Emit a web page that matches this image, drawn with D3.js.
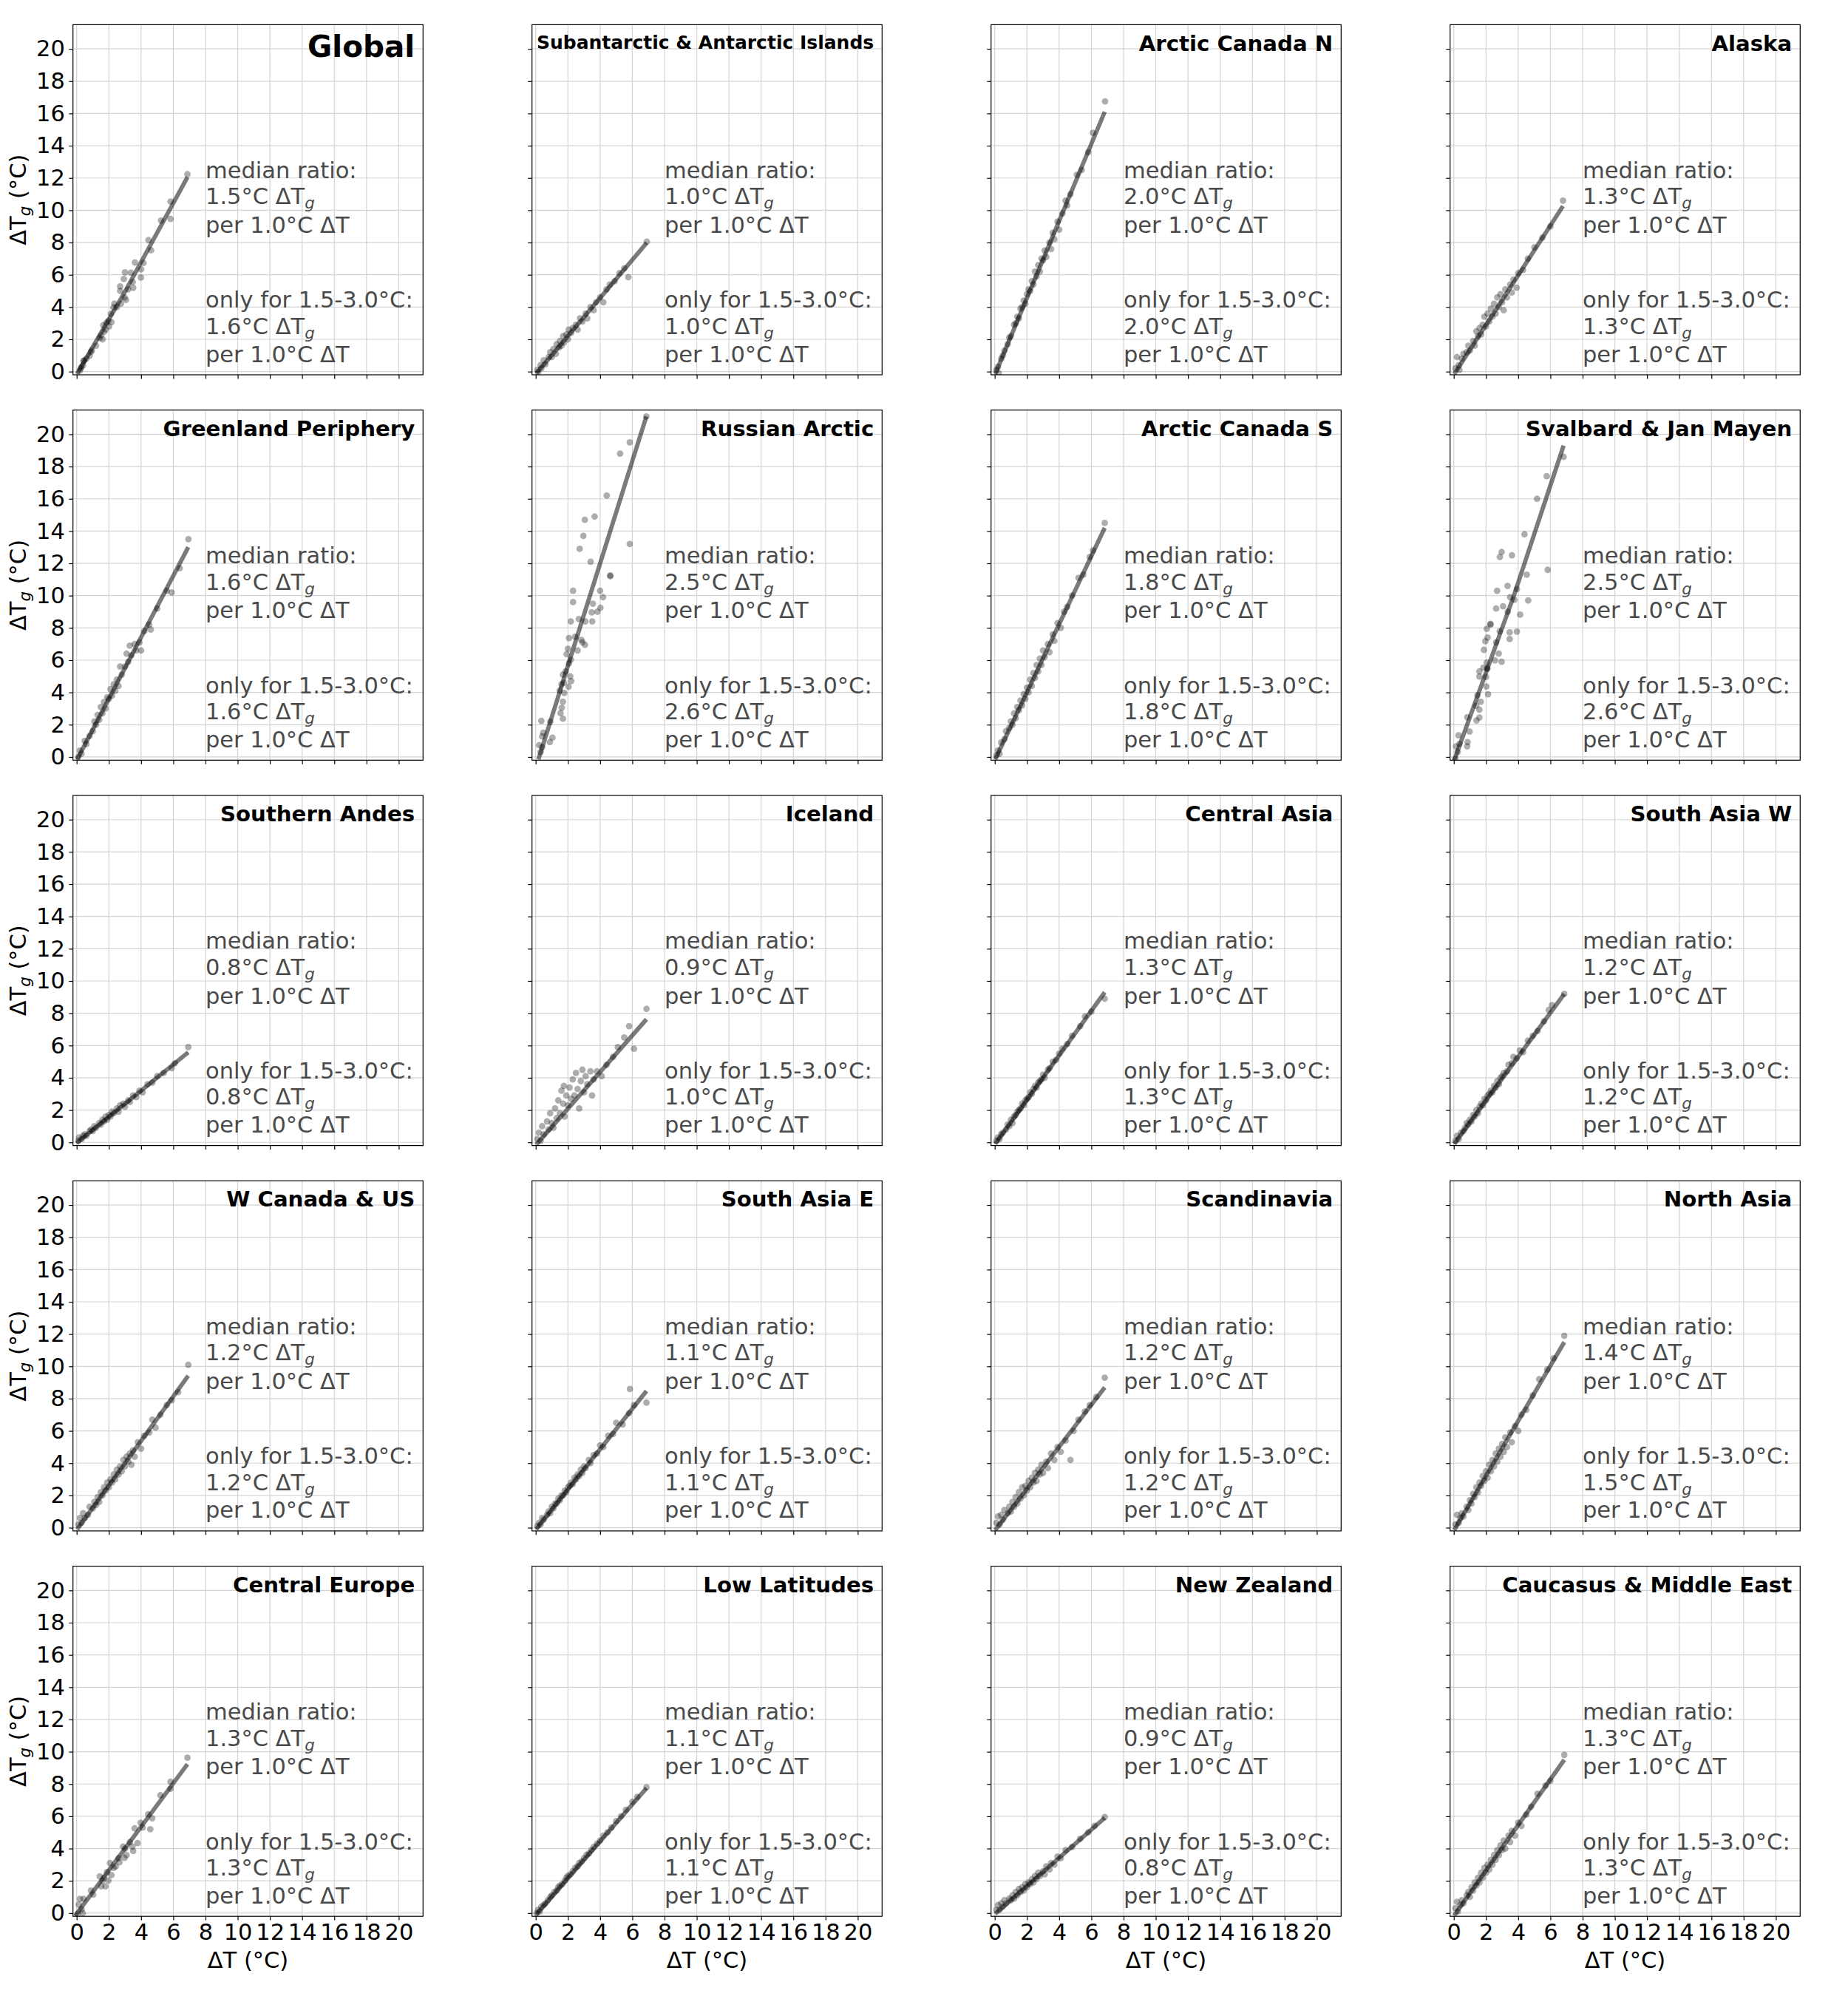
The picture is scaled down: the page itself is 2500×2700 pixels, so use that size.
<!DOCTYPE html>
<html><head><meta charset="utf-8">
<script src="https://cdn.jsdelivr.net/npm/d3@7"></script>
<style>body{margin:0;background:#fff}</style>
</head><body><svg id="chart"></svg>
<script>
const regions = ["Global","Subantarctic & Antarctic Islands","Arctic Canada N","Alaska",
  "Greenland Periphery","Russian Arctic","Arctic Canada S","Svalbard & Jan Mayen",
  "Southern Andes","Iceland","Central Asia","South Asia W",
  "W Canada & US","South Asia E","Scandinavia","North Asia",
  "Central Europe","Low Latitudes","New Zealand","Caucasus & Middle East"];
const medianRatio = ["1.5","1.0","2.0","1.3","1.6","2.5","1.8","2.5","0.8","0.9","1.3","1.2","1.2","1.1","1.2","1.4","1.3","1.1","0.9","1.3"];
const rangeRatio  = ["1.6","1.0","2.0","1.3","1.6","2.6","1.8","2.6","0.8","1.0","1.3","1.2","1.2","1.1","1.2","1.5","1.3","1.1","0.8","1.3"];
const tickValues = [0,2,4,6,8,10,12,14,16,18,20];
const tickLabels = ["0","2","4","6","8","10","12","14","16","18","20"];

// fitted lines [ΔT, ΔTg]
const F01=[[0.02,-0.15],[3,4.95],[6.88,12.05]];
const F02=[[0.05,-0.1],[6.89,7.97]];
const F03=[[0.03,-0.15],[6.83,16.1]];
const F04=[[0.03,-0.15],[6.78,10.26]];
const F05=[[0.03,-0.15],[6.93,13.0]];
const F06=[[0.17,-0.15],[6.87,21.1]];
const F07=[[0.03,-0.15],[6.83,14.2]];
const F08=[[0.02,-0.23],[3.73,10.0],[6.82,19.3]];
const F09=[[0.0,-0.05],[6.93,5.58]];
const F10=[[0.03,-0.15],[6.88,7.63]];
const F11=[[0.03,-0.1],[6.83,9.3]];
const F12=[[0.03,-0.1],[6.86,9.2]];
const F13=[[0.03,-0.1],[6.93,9.42]];
const F14=[[0.03,-0.1],[6.88,8.47]];
const F15=[[0.03,-0.15],[6.83,8.7]];
const F16=[[0.03,-0.15],[6.86,11.5]];
const F17=[[-0.1,-0.18],[6.88,9.23]];
const F18=[[0.03,-0.1],[6.88,7.74]];
const F19=[[0.03,-0.05],[6.83,5.9]];
const F20=[[0.03,-0.15],[6.86,9.5]];

// scatter points [ΔT, ΔTg]
const P01=[[6.88,12.23],[5.83,10.54],[5.83,9.46],[5.24,9.36],[4.46,8.15],[4.62,7.52],[4.15,6.73],[3.62,6.76],[4.0,6.34],[3.99,5.83],[3.0,6.15],[3.37,6.13],[2.93,5.74],[2.7,5.28],[3.48,5.55],[3.51,5.19],[2.97,4.6],[3.06,4.44],[2.7,5.0],[2.34,4.21],[2.28,3.97],[2.75,4.21],[2.12,3.58],[1.97,3.15],[2.16,3.06],[1.85,3.03],[2.01,2.79],[1.65,2.87],[1.7,2.47],[1.52,2.24],[1.61,2.0],[1.43,2.08],[0.89,1.21],[0.8,0.98],[0.94,1.32],[0.42,0.66],[0.4,0.39],[0.25,0.19],[0.2,0.06],[0.47,0.69],[1.2,1.6],[2.5,4.0],[3.2,5.1],[1.8,2.6],[0.6,0.8],[0.3,0.3]];
const P02=[[0.1,0.1],[0.15,-0.05],[0.3,0.4],[0.35,0.2],[0.5,0.7],[0.6,0.45],[0.8,0.9],[0.9,1.2],[1.0,0.9],[1.1,1.4],[1.25,1.1],[1.3,1.7],[1.45,1.5],[1.5,1.9],[1.6,1.6],[1.7,2.2],[1.75,1.8],[1.9,2.3],[2.0,2.0],[2.05,2.6],[2.2,2.4],[2.3,2.7],[2.5,2.9],[2.6,2.6],[2.75,3.3],[2.9,3.1],[3.1,3.6],[3.2,3.3],[3.4,4.0],[3.6,3.8],[3.75,4.3],[4.0,4.6],[4.2,4.3],[4.4,5.1],[4.6,5.4],[4.9,5.6],[5.2,6.1],[5.5,6.4],[5.75,5.85],[6.9,8.05]];
const P03=[[0.1,0.1],[0.2,0.3],[0.25,-0.1],[0.4,0.8],[0.5,1.0],[0.6,1.3],[0.8,1.7],[0.9,2.1],[1.0,2.2],[1.2,2.9],[1.3,3.0],[1.4,3.4],[1.5,3.3],[1.6,3.9],[1.7,4.0],[1.8,4.4],[1.9,4.2],[2.0,4.8],[2.1,5.1],[2.2,5.0],[2.3,5.6],[2.4,5.4],[2.5,6.2],[2.6,5.9],[2.7,6.6],[2.8,6.2],[2.9,7.0],[3.0,6.9],[3.1,7.5],[3.2,7.1],[3.4,8.0],[3.5,7.6],[3.6,8.6],[3.7,8.2],[3.9,9.3],[4.0,8.8],[4.2,9.8],[4.4,10.6],[4.5,10.3],[4.7,11.0],[5.1,12.2],[5.4,12.5],[5.8,13.6],[6.1,14.8],[6.85,16.75]];
const P04=[[0.1,0.2],[0.2,0.9],[0.3,0.4],[0.35,0.1],[0.5,0.8],[0.6,1.1],[0.8,1.2],[0.9,1.6],[1.0,1.3],[1.2,1.9],[1.3,1.6],[1.4,2.5],[1.5,2.2],[1.6,2.7],[1.7,2.3],[1.8,2.9],[1.9,3.4],[2.0,2.8],[2.1,3.6],[2.2,3.1],[2.3,3.9],[2.4,3.4],[2.5,4.2],[2.6,3.6],[2.7,4.6],[2.8,4.0],[2.9,4.8],[3.0,4.3],[3.1,3.8],[3.2,5.1],[3.3,4.6],[3.5,5.4],[3.6,4.9],[3.7,5.7],[3.9,5.2],[4.0,6.1],[4.3,6.3],[4.6,7.0],[5.0,7.7],[5.5,8.3],[6.0,9.0],[6.78,10.6]];
const P05=[[0.1,0.0],[0.2,0.4],[0.3,0.2],[0.5,1.0],[0.6,0.8],[0.8,1.3],[1.0,1.6],[1.1,2.2],[1.2,2.0],[1.3,2.6],[1.4,2.3],[1.5,3.1],[1.6,2.7],[1.7,3.4],[1.8,3.0],[1.9,3.7],[2.0,3.6],[2.1,4.2],[2.2,3.8],[2.3,4.5],[2.4,4.1],[2.5,4.8],[2.6,4.4],[2.7,5.6],[2.8,5.1],[3.0,5.6],[3.1,6.4],[3.2,5.9],[3.3,6.9],[3.4,6.3],[3.6,7.0],[3.7,6.6],[3.9,7.1],[4.0,6.6],[4.2,7.8],[4.5,8.2],[4.6,7.9],[5.0,9.2],[5.6,10.3],[5.9,10.2],[6.4,11.7],[6.94,13.5]];
const P06=[[6.87,21.1],[5.84,19.5],[5.24,18.8],[4.41,16.2],[3.05,14.7],[3.66,14.9],[2.96,13.7],[2.73,12.9],[3.41,12.1],[5.84,13.2],[4.63,11.2],[4.63,11.25],[2.32,10.3],[2.32,9.6],[4.0,10.3],[4.18,9.9],[3.55,9.5],[3.48,8.96],[3.83,9.0],[4.02,9.25],[2.18,8.4],[2.68,8.55],[3.08,8.4],[3.51,8.4],[2.07,7.37],[2.45,7.45],[2.84,7.25],[3.06,6.95],[2.6,6.6],[2.0,6.7],[1.92,6.37],[2.18,6.03],[2.07,5.8],[1.69,5.1],[2.15,5.0],[2.2,4.7],[2.04,4.35],[1.49,4.12],[1.77,3.97],[1.69,3.43],[1.62,3.05],[1.54,2.72],[1.69,2.37],[0.35,2.24],[0.91,2.18],[0.47,1.5],[1.04,1.19],[0.88,0.92],[0.4,1.27],[0.21,0.73],[0.4,0.61],[1.6,4.5],[1.75,4.6],[1.85,5.3],[2.9,7.1],[0.3,0.3]];
const P07=[[0.1,0.1],[0.2,0.4],[0.3,0.2],[0.4,0.9],[0.6,1.1],[0.7,1.6],[0.9,1.8],[1.0,2.2],[1.1,2.0],[1.2,2.7],[1.3,2.4],[1.4,3.1],[1.5,2.9],[1.6,3.5],[1.7,3.2],[1.8,3.9],[1.9,3.6],[2.0,4.3],[2.1,4.0],[2.2,4.8],[2.3,4.4],[2.4,5.2],[2.5,4.9],[2.6,5.7],[2.7,5.3],[2.8,6.1],[2.9,5.7],[3.0,6.6],[3.1,6.2],[3.3,7.0],[3.4,6.5],[3.6,7.6],[3.7,7.2],[3.9,8.3],[4.1,8.0],[4.3,9.0],[4.5,9.3],[4.8,10.0],[5.2,11.1],[5.5,11.3],[5.9,12.4],[6.1,12.8],[6.83,14.5]];
const P08=[[6.82,18.6],[5.77,17.4],[5.17,16.0],[4.39,13.8],[2.97,12.7],[2.86,12.4],[3.61,12.5],[5.83,11.6],[4.53,11.3],[3.34,10.6],[2.69,10.3],[3.92,10.4],[3.5,9.9],[3.76,9.74],[4.62,9.7],[3.06,9.34],[2.63,9.2],[3.35,9.0],[4.12,8.82],[2.28,8.2],[2.28,8.25],[2.05,7.94],[2.85,7.79],[3.47,7.72],[3.92,7.77],[2.1,7.4],[1.96,7.17],[3.47,7.31],[2.63,7.1],[1.87,6.64],[2.79,6.41],[2.56,5.98],[2.97,5.9],[2.05,5.85],[1.84,5.54],[2.08,5.47],[2.08,5.5],[1.59,5.3],[1.59,4.99],[2.0,4.96],[2.02,4.37],[2.13,3.89],[1.47,3.82],[1.67,3.42],[1.59,2.93],[1.38,3.18],[0.84,2.47],[1.41,2.26],[1.59,2.44],[0.98,1.57],[0.29,1.34],[0.86,0.92],[0.35,0.81],[0.14,0.66],[0.83,0.66],[0.24,0.31],[0.1,-0.1]];
const P09=[[0.1,0.1],[0.15,0.3],[0.3,0.2],[0.4,0.4],[0.5,0.5],[0.6,0.4],[0.8,0.7],[0.9,0.8],[1.0,0.7],[1.1,1.0],[1.2,0.9],[1.4,1.2],[1.5,1.1],[1.6,1.4],[1.7,1.3],[1.8,1.6],[1.9,1.4],[2.0,1.7],[2.1,1.6],[2.2,1.9],[2.3,1.8],[2.5,2.1],[2.6,1.9],[2.7,2.3],[2.9,2.4],[3.0,2.2],[3.2,2.6],[3.3,2.5],[3.5,2.9],[3.7,2.8],[3.9,3.2],[4.1,3.1],[4.4,3.6],[4.7,3.7],[5.0,4.1],[5.4,4.3],[5.9,4.6],[6.1,4.9],[6.93,5.9]];
const P10=[[0.1,0.2],[0.2,0.6],[0.3,0.1],[0.4,1.0],[0.5,0.5],[0.7,1.3],[0.8,0.8],[0.9,1.8],[1.0,1.2],[1.1,0.9],[1.2,2.1],[1.3,1.5],[1.4,2.6],[1.5,1.8],[1.6,3.2],[1.7,2.4],[1.75,3.5],[1.8,1.6],[1.9,2.9],[2.0,2.3],[2.1,3.4],[2.2,2.7],[2.3,3.9],[2.4,2.9],[2.5,4.3],[2.6,3.3],[2.7,2.1],[2.8,3.8],[2.9,4.5],[3.0,3.1],[3.1,4.1],[3.2,3.6],[3.4,4.4],[3.5,2.9],[3.6,3.9],[3.8,4.4],[4.1,4.1],[4.4,4.8],[4.8,5.3],[5.1,5.9],[5.5,6.5],[5.8,7.2],[6.1,5.8],[6.88,8.27]];
const P11=[[0.1,0.1],[0.2,0.3],[0.3,0.2],[0.4,0.5],[0.5,0.6],[0.7,0.8],[0.8,1.1],[0.9,1.0],[1.0,1.4],[1.1,1.2],[1.2,1.6],[1.3,1.7],[1.4,1.9],[1.5,2.0],[1.6,2.1],[1.7,2.4],[1.8,2.3],[1.9,2.6],[2.0,2.7],[2.1,2.8],[2.2,3.1],[2.3,3.0],[2.4,3.3],[2.5,3.5],[2.6,3.4],[2.7,3.7],[2.8,3.8],[2.9,3.9],[3.0,4.2],[3.1,4.0],[3.3,4.5],[3.4,4.6],[3.6,5.0],[3.8,5.1],[4.0,5.5],[4.2,5.8],[4.5,6.1],[4.8,6.6],[5.3,7.2],[5.6,7.8],[6.0,8.1],[6.83,8.9]];
const P12=[[0.1,0.1],[0.2,0.4],[0.3,0.2],[0.45,0.6],[0.6,0.7],[0.7,0.9],[0.8,1.2],[0.9,1.1],[1.0,1.4],[1.1,1.3],[1.2,1.7],[1.3,1.6],[1.4,2.0],[1.5,1.8],[1.6,2.2],[1.7,2.4],[1.8,2.3],[1.9,2.7],[2.0,2.6],[2.1,2.9],[2.2,3.0],[2.3,3.2],[2.4,3.1],[2.5,3.5],[2.6,3.4],[2.7,3.8],[2.8,3.6],[2.9,4.0],[3.0,4.1],[3.1,4.3],[3.3,4.4],[3.4,4.8],[3.6,4.9],[3.7,5.3],[3.9,5.2],[4.1,5.7],[4.3,5.6],[4.6,6.3],[4.9,6.6],[5.2,6.9],[5.6,7.5],[5.9,8.2],[6.1,8.5],[6.86,9.2]];
const P13=[[0.1,0.2],[0.2,0.6],[0.3,0.3],[0.4,0.9],[0.5,0.6],[0.7,0.8],[0.8,1.3],[1.0,1.2],[1.1,1.6],[1.2,1.4],[1.3,1.9],[1.4,1.6],[1.5,2.2],[1.6,2.0],[1.7,2.5],[1.8,2.3],[1.9,2.8],[2.0,2.5],[2.1,3.0],[2.2,2.8],[2.3,3.3],[2.4,3.0],[2.5,3.6],[2.6,3.3],[2.7,3.8],[2.8,3.5],[2.9,4.2],[3.0,3.8],[3.1,4.4],[3.2,4.1],[3.3,4.6],[3.4,3.9],[3.5,4.8],[3.6,4.4],[3.8,5.3],[4.0,4.9],[4.2,5.7],[4.5,5.9],[4.7,6.7],[4.9,6.2],[5.2,7.0],[5.6,7.6],[5.9,7.9],[6.3,8.4],[6.93,10.1]];
const P14=[[0.1,0.1],[0.2,0.3],[0.3,0.2],[0.4,0.6],[0.5,0.5],[0.7,0.8],[0.8,1.0],[0.9,0.9],[1.0,1.3],[1.1,1.2],[1.2,1.5],[1.3,1.5],[1.4,1.8],[1.5,1.7],[1.6,2.0],[1.7,2.0],[1.8,2.3],[1.9,2.2],[2.0,2.5],[2.1,2.6],[2.2,2.8],[2.3,2.7],[2.4,3.1],[2.5,3.0],[2.6,3.3],[2.7,3.2],[2.8,3.6],[2.9,3.4],[3.0,3.8],[3.1,3.7],[3.3,4.2],[3.4,4.0],[3.6,4.5],[3.8,4.6],[4.0,5.1],[4.2,5.0],[4.5,5.7],[4.8,5.8],[5.0,6.5],[5.4,6.4],[5.8,7.1],[5.85,8.6],[6.1,7.6],[6.88,7.75]];
const P15=[[0.1,0.3],[0.2,0.7],[0.3,0.2],[0.4,0.8],[0.5,0.5],[0.6,1.1],[0.8,0.9],[0.9,1.3],[1.0,1.0],[1.1,1.6],[1.2,1.3],[1.3,1.9],[1.4,1.5],[1.5,2.2],[1.6,1.8],[1.7,2.5],[1.8,2.0],[1.9,2.6],[2.0,2.3],[2.1,2.9],[2.2,2.5],[2.3,3.1],[2.4,2.8],[2.5,3.4],[2.6,2.9],[2.7,3.6],[2.8,3.3],[2.9,3.9],[3.0,3.4],[3.2,4.1],[3.3,3.7],[3.5,4.6],[3.7,4.2],[3.9,5.0],[4.1,4.7],[4.4,5.4],[4.7,4.2],[4.9,6.0],[5.2,6.7],[5.6,7.2],[5.9,7.6],[6.3,8.1],[6.83,9.3]];
const P16=[[0.1,0.2],[0.2,0.8],[0.3,0.3],[0.4,0.6],[0.5,0.9],[0.6,0.7],[0.8,1.3],[0.9,1.1],[1.0,1.7],[1.1,1.5],[1.2,2.1],[1.3,1.9],[1.4,2.5],[1.5,2.2],[1.6,2.8],[1.7,2.6],[1.8,3.2],[1.9,2.9],[2.0,3.5],[2.1,3.1],[2.2,3.9],[2.3,3.5],[2.4,4.2],[2.5,3.8],[2.6,4.6],[2.7,4.1],[2.8,4.9],[2.9,4.4],[3.0,5.2],[3.1,4.7],[3.2,5.6],[3.3,5.0],[3.5,5.9],[3.6,5.3],[3.8,6.3],[4.0,6.0],[4.2,7.0],[4.5,7.3],[4.9,8.2],[5.3,9.2],[5.8,9.8],[6.2,10.5],[6.86,11.9]];
const P17=[[6.88,9.63],[5.83,8.14],[5.83,7.71],[5.2,7.3],[4.69,5.87],[4.57,5.2],[4.44,6.13],[3.97,5.6],[3.6,5.25],[3.78,4.34],[3.51,3.85],[3.46,4.12],[3.1,3.59],[2.88,4.12],[2.97,3.42],[2.66,3.15],[2.43,2.89],[2.07,3.1],[2.16,2.36],[1.88,2.54],[1.7,2.19],[1.43,2.28],[1.52,1.66],[1.79,1.66],[1.97,2.01],[0.89,1.4],[1.03,1.14],[0.43,0.88],[0.2,0.88],[0.13,0.53],[0.31,0.23],[0.38,0.0],[0.07,-0.05],[2.3,2.8],[2.6,3.4],[3.0,4.0],[1.6,2.0],[4.1,5.3],[3.3,4.4]];
const P18=[[0.05,0.0],[0.15,0.2],[0.25,0.1],[0.35,0.4],[0.5,0.5],[0.6,0.6],[0.75,0.8],[0.9,1.0],[1.0,1.1],[1.15,1.3],[1.3,1.4],[1.4,1.6],[1.5,1.7],[1.65,1.8],[1.8,2.0],[1.9,2.2],[2.0,2.3],[2.15,2.4],[2.3,2.6],[2.45,2.8],[2.6,2.9],[2.7,3.1],[2.85,3.2],[3.0,3.4],[3.15,3.6],[3.3,3.7],[3.45,3.9],[3.6,4.1],[3.8,4.3],[4.0,4.5],[4.2,4.8],[4.45,5.0],[4.7,5.3],[5.0,5.7],[5.3,6.0],[5.6,6.4],[6.0,6.9],[6.3,7.2],[6.88,7.8]];
const P19=[[0.1,0.2],[0.2,0.5],[0.3,0.2],[0.4,0.6],[0.5,0.4],[0.6,0.8],[0.7,0.6],[0.9,0.9],[1.0,0.8],[1.1,1.1],[1.2,0.9],[1.3,1.3],[1.4,1.1],[1.5,1.5],[1.6,1.3],[1.7,1.6],[1.8,1.4],[1.9,1.8],[2.0,1.6],[2.1,1.9],[2.2,1.8],[2.3,2.1],[2.4,1.9],[2.5,2.3],[2.6,2.1],[2.7,2.5],[2.8,2.3],[3.0,2.6],[3.1,2.4],[3.2,2.9],[3.4,2.7],[3.5,3.1],[3.7,3.0],[3.9,3.5],[4.1,3.4],[4.4,3.9],[4.8,4.1],[5.3,4.6],[5.8,5.0],[6.2,5.4],[6.83,5.95]];
const P20=[[0.1,0.3],[0.2,0.7],[0.25,0.1],[0.4,0.5],[0.5,0.8],[0.6,0.6],[0.8,1.1],[0.9,1.3],[1.0,1.0],[1.1,1.6],[1.2,1.4],[1.3,1.9],[1.4,1.7],[1.5,2.2],[1.6,1.9],[1.7,2.5],[1.8,2.2],[1.9,2.8],[2.0,2.5],[2.1,3.0],[2.2,2.7],[2.3,3.3],[2.4,3.0],[2.5,3.6],[2.6,3.3],[2.7,3.9],[2.8,3.6],[2.9,4.2],[3.0,3.9],[3.1,4.5],[3.2,4.0],[3.4,4.8],[3.5,4.4],[3.6,5.1],[3.8,4.8],[4.0,5.6],[4.2,5.4],[4.5,6.1],[4.8,6.6],[5.2,7.4],[5.7,7.9],[6.0,8.2],[6.86,9.8]];

const panelPoints=[P01,P02,P03,P04,P05,P06,P07,P08,P09,P10,P11,P12,P13,P14,P15,P16,P17,P18,P19,P20];
const panelFits=[F01,F02,F03,F04,F05,F06,F07,F08,F09,F10,F11,F12,F13,F14,F15,F16,F17,F18,F19,F20];

// ---- layout ----
const FONT = "DejaVu Sans, Verdana, sans-serif";
const L0 = 98.7, CS = 621.0, T0 = 33.4, RS = 521.3, W = 473.6, H = 473.6;
const FS = 30.5;

const svg = d3.select("#chart").attr("width",2500).attr("height",2700)
  .style("font-family",FONT);
svg.append("rect").attr("width",2500).attr("height",2700).attr("fill","#fff");
svg.append("defs").append("clipPath").attr("id","pclip")
  .append("rect").attr("x",0).attr("y",0).attr("width",W).attr("height",H);

const x = d3.scaleLinear().domain([-0.23,21.51]).range([0,W]);
const y = d3.scaleLinear().domain([-0.2,21.5]).range([H,0]);
const lineGen = d3.line().x(d=>x(d[0])).y(d=>y(d[1]));

function addSubG(textSel, before, after){
  textSel.append("tspan").text(before);
  textSel.append("tspan").attr("font-style","italic").attr("font-size","70%").attr("dy",6).text("g");
  if(after) textSel.append("tspan").attr("dy",-6).text(after);
}

regions.forEach((name,i)=>{
  const r = Math.floor(i/4), c = i%4;
  const g = svg.append("g").attr("transform",`translate(${L0+c*CS},${T0+r*RS})`);

  // grid
  const grid = g.append("g");
  grid.selectAll("line.v").data(tickValues).join("line")
    .attr("x1",d=>x(d)).attr("x2",d=>x(d)).attr("y1",0).attr("y2",H)
    .attr("stroke","#d4d4d4").attr("stroke-width",1.2);
  grid.selectAll("line.h").data(tickValues).join("line")
    .attr("y1",d=>y(d)).attr("y2",d=>y(d)).attr("x1",0).attr("x2",W)
    .attr("stroke","#d4d4d4").attr("stroke-width",1.2);

  // annotation text
  const ann = g.append("g").attr("fill","#4a4a4a").attr("font-size",FS);
  const ax = x(8);
  ann.append("text").attr("x",ax).attr("y",y(12.0)).text("median ratio:");
  addSubG(ann.append("text").attr("x",ax).attr("y",y(10.37)), `${medianRatio[i]}°C ΔT`);
  ann.append("text").attr("x",ax).attr("y",y(8.6)).text("per 1.0°C ΔT");
  ann.append("text").attr("x",ax).attr("y",y(3.95)).text("only for 1.5-3.0°C:");
  addSubG(ann.append("text").attr("x",ax).attr("y",y(2.33)), `${rangeRatio[i]}°C ΔT`);
  ann.append("text").attr("x",ax).attr("y",y(0.6)).text("per 1.0°C ΔT");

  // data
  const plot = g.append("g").attr("clip-path","url(#pclip)");
  plot.append("path").datum(panelFits[i]).attr("d",lineGen)
    .attr("fill","none").attr("stroke","#000").attr("stroke-opacity",0.52)
    .attr("stroke-width",5.8);
  plot.selectAll("circle").data(panelPoints[i]).join("circle")
    .attr("cx",d=>x(d[0])).attr("cy",d=>y(d[1])).attr("r",4.4)
    .attr("fill","#000").attr("fill-opacity",0.32);

  // title
  const tfs = i===0 ? 40.5 : (name.length>25 ? 25 : 29.2);
  g.append("text").attr("x",x(21)).attr("y",13.9+0.729*tfs)
    .attr("text-anchor","end").attr("font-weight","bold").attr("font-size",tfs)
    .attr("fill","#000").text(name);

  // axes
  const yAxis = d3.axisLeft(y).tickValues(tickValues).tickSize(5.4).tickPadding(5.5)
    .tickFormat(c===0 ? ((d,k)=>tickLabels[k]) : (()=>""));
  const xAxis = d3.axisBottom(x).tickValues(tickValues).tickSize(5.4).tickPadding(4.6)
    .tickFormat(r===4 ? ((d,k)=>tickLabels[k]) : (()=>""));
  const ya = g.append("g").call(yAxis);
  const xa = g.append("g").attr("transform",`translate(0,${H})`).call(xAxis);
  [ya,xa].forEach(a=>{
    a.select(".domain").remove();
    a.selectAll(".tick line").attr("stroke","#000").attr("stroke-width",1.2);
    a.selectAll(".tick text").attr("fill","#000").attr("font-size",FS).attr("font-family",FONT);
  });

  // frame
  g.append("rect").attr("x",0).attr("y",0).attr("width",W).attr("height",H)
    .attr("fill","none").attr("stroke","#000").attr("stroke-width",1.2);

  // axis labels
  if(c===0){
    const t = g.append("text").attr("transform",`translate(${35-L0},${H/2}) rotate(-90)`)
      .attr("text-anchor","middle").attr("font-size",FS).attr("fill","#000");
    addSubG(t,"ΔT"," (°C)");
  }
  if(r===4){
    g.append("text").attr("x",W/2).attr("y",H+69.7).attr("text-anchor","middle")
      .attr("font-size",FS).attr("fill","#000").text("ΔT (°C)");
  }
});
</script></body></html>
